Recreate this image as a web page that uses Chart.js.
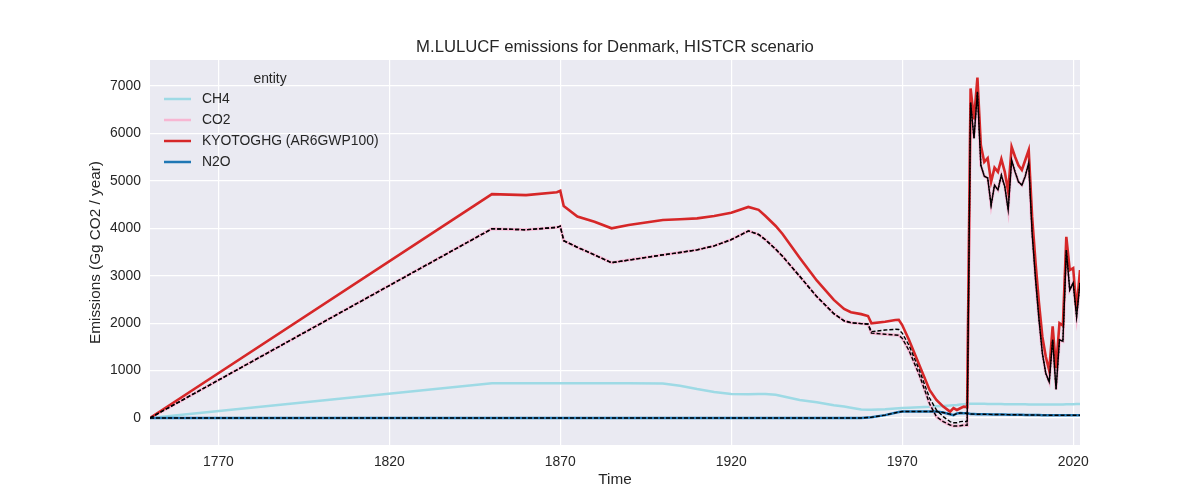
<!DOCTYPE html>
<html>
<head>
<meta charset="utf-8">
<script src="https://cdn.jsdelivr.net/npm/chart.js@4.4.0/dist/chart.umd.min.js"></script>
<style>
  html, body { margin: 0; padding: 0; background: #ffffff; }
  #wrap { width: 1200px; height: 500px; }
</style>
</head>
<body>
<div id="wrap"><canvas id="chart" width="1200" height="500"></canvas></div>
<script>
// Years (sparse before 1990, yearly after)
const years = [1750, 1850, 1860, 1869, 1870, 1871, 1875, 1880, 1885, 1890,
  1900, 1905, 1910, 1915, 1920, 1925, 1928, 1930, 1933, 1935,
  1940, 1945, 1950, 1953, 1955, 1958, 1960, 1961, 1965, 1968,
  1969, 1970, 1972, 1975, 1978, 1980, 1982, 1984, 1985, 1986,
  1987, 1988, 1989,
  1990, 1991, 1992, 1993, 1994, 1995, 1996, 1997, 1998, 1999,
  2000, 2001, 2002, 2003, 2004, 2005, 2006, 2007, 2008, 2009,
  2010, 2011, 2012, 2013, 2014, 2015, 2016, 2017, 2018, 2019,
  2020, 2021, 2022];

const ch4 = [0, 730, 730, 730, 730, 730, 730, 730, 730, 730,
  725, 680, 610, 550, 505, 500, 505, 505, 490, 460,
  380, 330, 270, 240, 215, 180, 175, 175, 185, 200,
  205, 210, 215, 225, 235, 245, 255, 265, 270, 275,
  285, 290, 295,
  300, 300, 300, 300, 298, 297, 296, 295, 294, 293,
  292, 291, 290, 290, 289, 288, 287, 286, 285, 285,
  284, 284, 283, 283, 283, 284, 285, 286, 288, 290,
  292, 294, 296];

const co2 = [0, 3990, 3970, 4020, 4045, 3740, 3600, 3440, 3275, 3330,
  3440, 3490, 3545, 3630, 3760, 3945, 3870, 3760, 3560, 3410,
  2990, 2560, 2200, 2050, 2010, 1990, 1975, 1790, 1765, 1750,
  1745, 1680, 1420, 906, 300, 28, -78, -148, -170, -170,
  -165, -150, -155,
  6650, 5900, 6880, 5330, 5100, 5060, 4490, 4910, 4810, 5120,
  4880, 4390, 5440, 5190, 4980, 4910, 5100, 5380, 3890, 2920,
  2080, 1360, 940, 760, 1650, 600, 1650, 1620, 3540, 2700,
  2850, 2140, 2850];

const kyoto = [0, 4720, 4700, 4760, 4790, 4470, 4250, 4140, 4000, 4070,
  4175, 4190, 4210, 4260, 4330, 4450, 4390, 4260, 4050, 3880,
  3380, 2900, 2490, 2300, 2230, 2190, 2150, 1996, 2030, 2066,
  2070, 1960, 1645, 1117, 590, 380, 240, 133, 210, 170,
  205, 240, 230,
  6950, 6300, 7180, 5750, 5400, 5480, 4980, 5280, 5190, 5460,
  5190, 4770, 5720, 5510, 5330, 5230, 5440, 5650, 4240, 3270,
  2430, 1710, 1290, 1000, 1930, 1050, 2000, 1950, 3820, 3120,
  3160, 2280, 3120];

const n2o = [0, 0, 0, 0, 0, 0, 0, 0, 0, 0,
  0, 0, 0, 0, 0, 0, 0, 0, 0, 0,
  0, 0, 0, 0, 0, 0, 10, 15, 60, 110,
  125, 135, 138, 138, 137, 135, 115, 80, 60, 95,
  105, 100, 100,
  85, 82, 80, 78, 77, 76, 75, 74, 73, 72,
  71, 70, 69, 68, 67, 66, 65, 64, 63, 62,
  61, 60, 60, 59, 59, 58, 58, 58, 57, 57,
  57, 57, 57];

// second source for CO2 (black dashed), differs from CO2 in 1961-1989
const co2Alt = [0, 3990, 3970, 4020, 4045, 3740, 3600, 3440, 3275, 3330,
  3440, 3490, 3545, 3630, 3760, 3945, 3870, 3760, 3560, 3410,
  2990, 2560, 2200, 2050, 2010, 1990, 1985, 1820, 1855, 1870,
  1865, 1790, 1530, 1012, 420, 170, 28, -78, -100, -100,
  -78, -70, -80,
  6650, 5900, 6880, 5330, 5100, 5060, 4490, 4910, 4810, 5120,
  4880, 4390, 5440, 5190, 4980, 4910, 5100, 5380, 3890, 2920,
  2080, 1360, 940, 760, 1650, 600, 1650, 1620, 3540, 2700,
  2850, 2140, 2850];

const n2oAlt = n2o.slice();

const xTicks = [1770, 1820, 1870, 1920, 1970, 2020];
const yTicks = [0, 1000, 2000, 3000, 4000, 5000, 6000, 7000];

const FONT = '"Liberation Sans", Arial, sans-serif';
const TEXT = '#262626';

const pts = vals => years.map((yr, i) => ({ x: yr, y: vals[i] }));

const solid = (label, vals, color, order, width) => ({
    label, data: pts(vals), borderColor: color, borderWidth: width,
    pointRadius: 0, tension: 0, order, inLegend: true
});
const dashed = (label, vals) => ({
    label, data: pts(vals), borderColor: '#000000', borderWidth: 1.4,
    borderDash: [4, 2], pointRadius: 0, tension: 0, order: 0, inLegend: false
});

// Background, title, axis titles and the legend inside the plot
const decorations = {
    id: 'decorations',
    beforeDraw(chart) {
        const { ctx, chartArea: a } = chart;
        ctx.save();
        ctx.fillStyle = '#ffffff';
        ctx.fillRect(0, 0, chart.width, chart.height);
        ctx.fillStyle = '#eaeaf2';
        ctx.fillRect(a.left, a.top, a.right - a.left, a.bottom - a.top);
        ctx.restore();
    },
    afterDraw(chart) {
        const { ctx, chartArea: a } = chart;
        const cx = (a.left + a.right) / 2;
        ctx.save();
        ctx.fillStyle = TEXT;
        ctx.textAlign = 'center';
        ctx.textBaseline = 'middle';
        ctx.font = '16.7px ' + FONT;
        ctx.fillText('M.LULUCF emissions for Denmark, HISTCR scenario', cx, 47);
        ctx.font = '15.3px ' + FONT;
        ctx.fillText('Time', cx, 480);
        ctx.save();
        ctx.translate(96, (a.top + a.bottom) / 2);
        ctx.rotate(-Math.PI / 2);
        ctx.fillText('Emissions (Gg CO2 / year)', 0, 0);
        ctx.restore();

        // legend
        ctx.font = '13.9px ' + FONT;
        ctx.fillText('entity', 270, 79);
        ctx.textAlign = 'left';
        const items = chart.data.datasets.filter(d => d.inLegend);
        items.forEach((d, i) => {
            const y = 99 + i * 21;
            ctx.strokeStyle = d.borderColor;
            ctx.lineWidth = 2.5;
            ctx.beginPath();
            ctx.moveTo(164, y);
            ctx.lineTo(191, y);
            ctx.stroke();
            ctx.fillStyle = TEXT;
            ctx.fillText(d.label, 202, y);
        });
        ctx.restore();
    }
};

new Chart(document.getElementById('chart').getContext('2d'), {
    type: 'line',
    data: {
        datasets: [
            solid('CH4', ch4, '#9edae5', 4, 2.5),
            solid('CO2', co2, '#f7b6d2', 3, 3),
            solid('KYOTOGHG (AR6GWP100)', kyoto, '#d62728', 2, 2.6),
            solid('N2O', n2o, '#1f77b4', 1, 2.5),
            dashed('CO2 alt', co2Alt),
            dashed('CO2', co2),
            dashed('N2O alt', n2oAlt)
        ]
    },
    options: {
        responsive: false,
        animation: false,
        devicePixelRatio: 1,
        layout: { padding: { left: 0, right: 120, top: 60, bottom: 0 } },
        plugins: {
            legend: { display: false },
            title: { display: false },
            tooltip: { enabled: false }
        },
        scales: {
            x: {
                type: 'linear',
                min: 1750,
                max: 2022,
                afterBuildTicks: s => { s.ticks = xTicks.map(v => ({ value: v })); },
                afterFit: s => { s.height = 55; },
                grid: { color: '#ffffff', lineWidth: 1.2, drawTicks: false },
                border: { display: false },
                ticks: {
                    color: TEXT, padding: 9, maxRotation: 0,
                    font: { family: FONT, size: 13.9 },
                    callback: v => String(v)
                }
            },
            y: {
                type: 'linear',
                min: -570,
                max: 7550,
                afterBuildTicks: s => { s.ticks = yTicks.map(v => ({ value: v })); },
                afterFit: s => { s.width = 150; },
                grid: { color: '#ffffff', lineWidth: 1.2, drawTicks: false },
                border: { display: false },
                ticks: {
                    color: TEXT, padding: 9,
                    font: { family: FONT, size: 13.9 },
                    callback: v => String(v)
                }
            }
        }
    },
    plugins: [decorations]
});
</script>
</body>
</html>
